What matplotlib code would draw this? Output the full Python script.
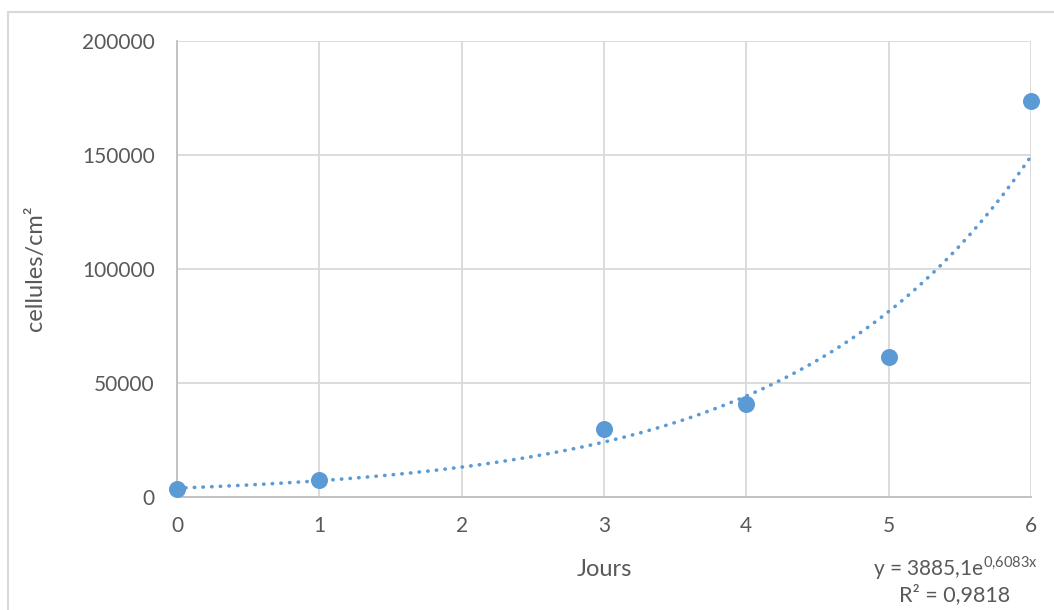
import numpy as np
import matplotlib
matplotlib.use("Agg")
import matplotlib.pyplot as plt
from matplotlib.patches import Rectangle

# Data
jours = [0, 1, 3, 4, 5, 6]
cellules = [3500, 7600, 30000, 41000, 61500, 173500]
# Trendline coefficients as shown on the chart (y = a * e^(b x))
fit_a = 3885.1
fit_b = 0.6083
fit_r2 = "0,9818"
x_ticks = [0, 1, 2, 3, 4, 5, 6]
y_ticks = [0, 50000, 100000, 150000, 200000]

plt.rcParams['font.family'] = ['Lato', 'DejaVu Sans']
plt.rcParams['mathtext.fontset'] = 'custom'
plt.rcParams['mathtext.rm'] = 'Lato'

text_col = '#595959'
pt_col = '#5b9bd5'

W, H = 1054, 610
fig = plt.figure(figsize=(W / 100, H / 100), dpi=100)
ax = fig.add_axes([177 / W, 1 - 497 / H, (1031 - 177) / W, (497 - 41) / H])

# outer chart border
fig.patches.append(Rectangle((8 / W, -0.1), 1.2, 1 - 12 / H + 0.1,
                             transform=fig.transFigure, fill=False,
                             edgecolor='#d9d9d9', linewidth=1.5))

xs = np.linspace(0, 6, 300)
ax.plot(xs, fit_a * np.exp(fit_b * xs), color=pt_col, linewidth=2.6,
        linestyle=(0, (0.1, 2.3)), dash_capstyle='round', zorder=2, clip_on=False)
ax.scatter(jours, cellules, s=150, color=pt_col, zorder=3, clip_on=False, linewidths=0)

ax.set_xlim(0, 6)
ax.set_ylim(0, 200000)
ax.set_xticks(x_ticks)
ax.set_yticks(y_ticks)
ax.set_xticklabels([str(v) for v in x_ticks])
ax.set_yticklabels([str(v) for v in y_ticks])
ax.grid(True, color='#d9d9d9', linewidth=1.3)
ax.set_axisbelow(True)
for s in ['top', 'right']:
    ax.spines[s].set_visible(False)
for s in ['left', 'bottom']:
    ax.spines[s].set_color('#bfbfbf')
    ax.spines[s].set_linewidth(1.3)
ax.tick_params(length=0, labelsize=15, labelcolor=text_col, pad=14)
ax.tick_params(axis='y', pad=16)

fig.text(604 / W, 1 - 569 / H, 'Jours', ha='center', va='center', fontsize=17, color=text_col)
fig.text(35 / W, 1 - 268 / H, 'cellules/cm²', ha='center', va='center', rotation=90,
         fontsize=17, color=text_col)

fig.text(955 / W, 1 - 568 / H, r'y = 3885,1e$^{\mathregular{0{,}6083x}}$',
         ha='center', va='center', fontsize=15, color=text_col)
fig.text(955 / W, 1 - 595 / H, 'R² = ' + fit_r2, ha='center', va='center',
         fontsize=15.5, color=text_col)

fig.savefig('out.png', dpi=100, facecolor='white')
